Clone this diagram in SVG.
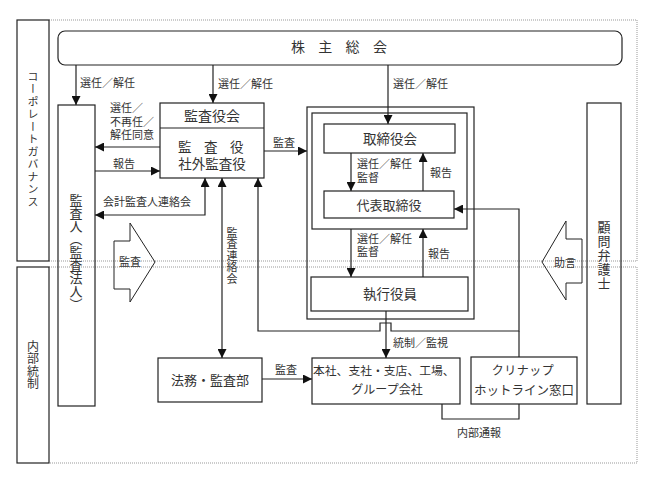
<svg xmlns="http://www.w3.org/2000/svg" width="652" height="482" viewBox="0 0 652 482">
<defs>
<style>
text{font-family:"Liberation Serif","Noto Sans CJK JP",sans-serif;fill:#333;dominant-baseline:central}
.s{font-size:11px}
.m{font-size:13.5px}
.v{font-family:"Noto Sans CJK JP",sans-serif;writing-mode:vertical-rl;text-anchor:middle}
.c{text-anchor:middle}
.box{fill:none;stroke:#222;stroke-width:1.2}
.sec{fill:none;stroke:#222;stroke-width:1.2}
.dot{fill:none;stroke:#999;stroke-width:1;stroke-dasharray:1 1}
.ln{fill:none;stroke:#222;stroke-width:1.2}
.a{marker-end:url(#ah)}
.b{marker-start:url(#ah);marker-end:url(#ah)}
.blk{fill:none;stroke:#222;stroke-width:1}
</style>
<marker id="ah" viewBox="0 0 10 10" refX="10" refY="5" markerWidth="9" markerHeight="9" orient="auto-start-reverse" markerUnits="userSpaceOnUse">
<path d="M0,0 L10,5 L0,10z" fill="#111"/>
</marker>
</defs>

<g id="sections">
<path class="dot" d="M49,20 H637 V261 H49"/>
<path class="dot" d="M49,267 H637 V463 H49"/>
<rect class="sec" x="17" y="20" width="32" height="241"/>
<rect class="sec" x="17" y="267" width="32" height="196"/>
<text class="v" x="33" y="140" style="font-size:11px;letter-spacing:1.5px">コーポレートガバナンス</text>
<text class="v" x="33" y="365" style="font-size:12px;letter-spacing:0.5px">内部統制</text>
</g>

<g id="shareholders">
<rect class="box" x="58" y="31" width="564" height="34" rx="7"/>
<text x="291" y="47" style="font-size:14px;letter-spacing:13.3px">株主総会</text>
</g>

<g id="auditor">
<rect class="box" x="58" y="105" width="37" height="301"/>
<text class="v" x="76" y="252" style="font-size:13px">監査人（監査法人）</text>
</g>

<g id="audit-board">
<rect class="box" x="160" y="103" width="104" height="75"/>
<line class="ln" x1="160" y1="128" x2="264" y2="128"/>
<text class="c" x="212" y="116" style="font-size:14px">監査役会</text>
<text x="178" y="147" style="font-size:13.5px;letter-spacing:12.5px">監査役</text>
<text class="c m" x="212" y="164">社外監査役</text>
</g>

<g id="board-frame">
<rect class="box" x="307" y="107" width="167" height="212"/>
<rect class="box" x="312" y="113" width="155" height="116"/>
</g>

<g id="board">
<rect class="box" x="324" y="124" width="131" height="29"/>
<text class="c m" x="390" y="139">取締役会</text>
</g>

<g id="president">
<rect class="box" x="324" y="191" width="130" height="27"/>
<text class="c" x="389" y="205" style="font-size:13px">代表取締役</text>
</g>

<g id="officers">
<rect class="box" x="311" y="277" width="157" height="34"/>
<text class="c m" x="390" y="294">執行役員</text>
</g>

<g id="legal-audit">
<rect class="box" x="158" y="358" width="104" height="44"/>
<text class="c" x="210" y="380" style="font-size:13px">法務・監査部</text>
</g>

<g id="offices">
<rect class="box" x="312" y="358" width="148" height="46"/>
<text x="313" y="371" style="font-size:11.8px">本社、支社・支店、工場、</text>
<text class="c" x="387" y="390" style="font-size:12px">グループ会社</text>
</g>

<g id="hotline">
<rect class="box" x="471" y="357" width="106" height="47"/>
<text class="c" x="523" y="371" style="font-size:12px;letter-spacing:0.5px">クリナップ</text>
<text class="c" x="524" y="391" style="font-size:12.5px">ホットライン窓口</text>
</g>

<g id="lawyer">
<rect class="box" x="587" y="103" width="34" height="301"/>
<text class="v" x="604" y="256" style="font-size:13px;letter-spacing:1px">顧問弁護士</text>
</g>

<g id="audit-arrow">
<polygon class="blk" points="114,241 130,241 130,223 155,262 130,302 130,289 114,289"/>
<text class="c s" x="130" y="262">監査</text>
</g>

<g id="advice-arrow">
<polygon class="blk" points="582,239 566,239 566,221 542,262 566,300 566,283 582,283"/>
<text class="c s" x="565" y="263">助言</text>
</g>

<g id="connectors">
<path class="ln a" d="M76,65 V105"/>
<path class="ln a" d="M213,65 V103"/>
<path class="ln a" d="M388,65 V124"/>
<path class="ln a" d="M160,147 H95"/>
<path class="ln a" d="M95,171 H160"/>
<path class="ln b" d="M205,178 V215 H95"/>
<path class="ln b" d="M222,178 V358"/>
<path class="ln b" d="M258,178 V331 H380 V323 H391 V331 H519 V209 H454"/>
<path class="ln" d="M519,331 V357"/>
<path class="ln a" d="M264,151 H307"/>
<path class="ln a" d="M351,153 V191"/>
<path class="ln a" d="M423,191 V153"/>
<path class="ln a" d="M351,229 V277"/>
<path class="ln a" d="M423,277 V229"/>
<path class="ln a" d="M386,311 V358"/>
<path class="ln a" d="M262,379 H312"/>
<path class="ln" d="M442,404 V419 H519 V404"/>
</g>

<g id="labels">
<text class="s" x="80" y="83">選任／解任</text>
<text class="s" x="218" y="84">選任／解任</text>
<text class="s" x="393" y="84">選任／解任</text>
<text class="s" x="110" y="108">選任／</text>
<text class="s" x="110" y="122">不再任／</text>
<text class="s" x="110" y="135">解任同意</text>
<text class="s" x="113" y="164">報告</text>
<text class="s" x="103" y="202">会計監査人連絡会</text>
<text class="s" x="273" y="143">監査</text>
<text class="s" x="357" y="164">選任／解任</text>
<text class="s" x="357" y="178">監督</text>
<text class="s" x="430" y="173">報告</text>
<text class="s" x="357" y="239">選任／解任</text>
<text class="s" x="357" y="252">監督</text>
<text class="s" x="428" y="254">報告</text>
<text class="v" x="232" y="256" style="font-size:11px;letter-spacing:0.5px">監査連絡会</text>
<text class="s" x="393" y="343">統制／監視</text>
<text class="s" x="275" y="370">監査</text>
<text class="s c" x="479" y="433">内部通報</text>
</g>
</svg>
